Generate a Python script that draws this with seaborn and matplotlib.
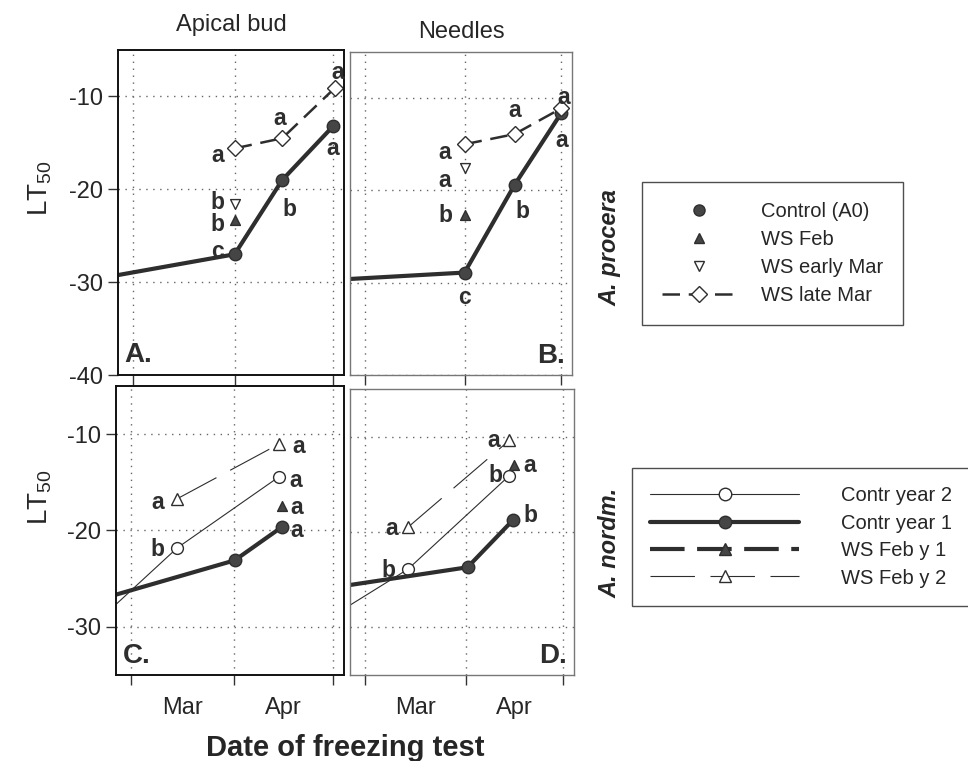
import pandas as pd
import seaborn as sns
from matplotlib import pyplot as plt
from matplotlib.lines import Line2D

# x axis = day of year (60 = 1 Mar, 91 = 1 Apr, 121 = 1 May)
month_ticks = [60, 91, 121]
month_mid = [75.5, 106]
month_names = ['Mar', 'Apr']

# A. procera - apical bud (panel A)
a_ctrl_x = [45, 91, 105.5, 121]
a_ctrl_y = [-29.9, -27.0, -19.0, -13.2]
a_ctrl_let = ['', 'c', 'b', 'a']
a_feb_x, a_feb_y, a_feb_let = [91], [-23.3], ['b']
a_emar_x, a_emar_y, a_emar_let = [91], [-21.6], ['b']
a_lmar_x = [91, 105.5, 121.5]
a_lmar_y = [-15.6, -14.5, -9.1]
a_lmar_let = ['a', 'a', 'a']

# A. procera - needles (panel B)
b_ctrl_x = [45, 91, 106.5, 121]
b_ctrl_y = [-29.8, -28.9, -19.4, -11.6]
b_ctrl_let = ['', 'c', 'b', 'a']
b_feb_x, b_feb_y, b_feb_let = [91], [-22.7], ['b']
b_emar_x, b_emar_y, b_emar_let = [91], [-17.6], ['a']
b_lmar_x = [91, 106.5, 121]
b_lmar_y = [-15.0, -13.9, -11.1]
b_lmar_let = ['a', 'a', 'a']

# A. nordmanniana - apical bud (panel C)
c_y1_x = [45, 91.3, 105.7]
c_y1_y = [-27.7, -23.1, -19.6]
c_y1_let = ['', '', 'a']
c_y2_x = [45, 74, 104.8]
c_y2_y = [-31.0, -21.8, -14.4]
c_y2_let = ['', 'b', 'a']
c_wsf1_x, c_wsf1_y, c_wsf1_let = [105.7], [-17.5], ['a']
c_wsf2_x = [74, 104.8]
c_wsf2_y = [-16.7, -11.0]
c_wsf2_let = ['a', 'a']

# A. nordmanniana - needles (panel D)
d_y1_x = [45, 91.6, 105.7]
d_y1_y = [-26.1, -23.7, -18.7]
d_y1_let = ['', '', 'b']
d_y2_x = [45, 73.3, 104.4]
d_y2_y = [-29.9, -23.9, -14.1]
d_y2_let = ['', 'b', 'b']
d_wsf1_x, d_wsf1_y, d_wsf1_let = [106], [-13.0], ['a']
d_wsf2_x = [73.3, 104.4]
d_wsf2_y = [-19.5, -10.4]
d_wsf2_let = ['a', 'a']

sns.set_theme(style='white')
plt.rcParams['font.family'] = ['Liberation Sans', 'DejaVu Sans']
plt.rcParams['mathtext.default'] = 'regular'
plt.rcParams['axes.unicode_minus'] = False

DARK = '#2e2e2e'
FILL = '#454545'

fig = plt.figure(figsize=(9.68, 7.61), dpi=100)
W, H = 968, 761


def box(x0, x1, y0, y1):
    return [x0 / W, 1 - y1 / H, (x1 - x0) / W, (y1 - y0) / H]


axA = fig.add_axes(box(118, 344, 50, 375))
axB = fig.add_axes(box(350, 572, 52, 375))
axC = fig.add_axes(box(116, 344, 386, 675))
axD = fig.add_axes(box(350, 574, 389, 675))

# line styles
THICK = dict(lw=3.0, linestyle='-')
THIN = dict(lw=0.8, linestyle='-')
LMAR = dict(lw=1.8, linestyle=(0, (7, 3.5)))
WSF2 = dict(lw=0.8, linestyle=(0, (40, 14)))


def line(ax, x, y, style, marker, ms, mfc):
    sns.lineplot(x=x, y=y, ax=ax, color=DARK, estimator=None, sort=False,
                 marker=marker, markersize=ms, markerfacecolor=mfc,
                 markeredgecolor=DARK, markeredgewidth=1.0, **style)


def points(ax, x, y, marker, size, fc):
    sns.scatterplot(x=x, y=y, ax=ax, marker=marker, s=size, color=fc,
                    edgecolor=DARK, linewidth=1.0, zorder=4)


def letters(ax, x, y, labs, offs):
    for xi, yi, t, o in zip(x, y, labs, offs):
        if t:
            ax.annotate(t, (xi, yi), xytext=o, textcoords='offset points',
                        ha='center', va='center', fontsize=16.5,
                        fontweight='bold', color=DARK)


# Panel A
line(axA, a_ctrl_x, a_ctrl_y, THICK, 'o', 9, FILL)
line(axA, a_lmar_x, a_lmar_y, LMAR, 'D', 8, 'white')
points(axA, a_feb_x, a_feb_y, '^', 50, FILL)
points(axA, a_emar_x, a_emar_y, 'v', 50, 'white')
letters(axA, a_ctrl_x, a_ctrl_y, a_ctrl_let, [None, (-12, 2), (5, -21), (0, -16)])
letters(axA, a_lmar_x, a_lmar_y, a_lmar_let, [(-12, -5), (-2, 14), (2, 11)])
letters(axA, a_feb_x, a_feb_y, a_feb_let, [(-12, -3)])
letters(axA, a_emar_x, a_emar_y, a_emar_let, [(-12, 1)])

# Panel B
line(axB, b_ctrl_x, b_ctrl_y, THICK, 'o', 9, FILL)
line(axB, b_lmar_x, b_lmar_y, LMAR, 'D', 8, 'white')
points(axB, b_feb_x, b_feb_y, '^', 50, FILL)
points(axB, b_emar_x, b_emar_y, 'v', 50, 'white')
letters(axB, b_ctrl_x, b_ctrl_y, b_ctrl_let, [None, (0, -18), (6, -19), (0, -20)])
letters(axB, b_lmar_x, b_lmar_y, b_lmar_let, [(-14, -6), (0, 17), (2, 8)])
letters(axB, b_feb_x, b_feb_y, b_feb_let, [(-14, 0)])
letters(axB, b_emar_x, b_emar_y, b_emar_let, [(-14, -9)])

# Panel C
line(axC, c_y2_x, c_y2_y, THIN, 'o', 8.5, 'white')
line(axC, c_y1_x, c_y1_y, THICK, 'o', 9, FILL)
line(axC, c_wsf2_x, c_wsf2_y, WSF2, '^', 8, 'white')
points(axC, c_wsf1_x, c_wsf1_y, '^', 50, FILL)
letters(axC, c_y1_x, c_y1_y, c_y1_let, [None, None, (10, -3)])
letters(axC, c_y2_x, c_y2_y, c_y2_let, [None, (-14, -1), (12, -3)])
letters(axC, c_wsf1_x, c_wsf1_y, c_wsf1_let, [(10, -1)])
letters(axC, c_wsf2_x, c_wsf2_y, c_wsf2_let, [(-14, -3), (14, -2)])

# Panel D
line(axD, d_y2_x, d_y2_y, THIN, 'o', 8.5, 'white')
line(axD, d_y1_x, d_y1_y, THICK, 'o', 9, FILL)
line(axD, d_wsf2_x, d_wsf2_y, WSF2, '^', 8, 'white')
points(axD, d_wsf1_x, d_wsf1_y, '^', 50, FILL)
letters(axD, d_y1_x, d_y1_y, d_y1_let, [None, None, (12, 3)])
letters(axD, d_y2_x, d_y2_y, d_y2_let, [None, (-14, -1), (-10, 0)])
letters(axD, d_wsf1_x, d_wsf1_y, d_wsf1_let, [(11, 0)])
letters(axD, d_wsf2_x, d_wsf2_y, d_wsf2_let, [(-12, -1), (-11, 0)])

# axes cosmetics
for ax, lab, left_col, top_row in [(axA, 'A.', True, True), (axB, 'B.', False, True),
                                    (axC, 'C.', True, False), (axD, 'D.', False, False)]:
    ax.set_xlim(55.5, 124.3)
    if top_row:
        ax.set_ylim(-40, -5)
        ax.set_yticks([-40, -30, -20, -10])
    else:
        ax.set_ylim(-35, -5)
        ax.set_yticks([-30, -20, -10])
    ax.set_xticks(month_ticks)
    ax.set_xticklabels([])
    ax.grid(True, which='major', linestyle=(0, (1, 4)), color='#666666', lw=1.0)
    ax.set_xlabel('')
    ax.set_ylabel('')
    for s in ax.spines.values():
        s.set_color('#111111' if left_col else '#777777')
        s.set_linewidth(1.4 if left_col else 1.0)
    ax.tick_params(axis='x', which='major', direction='out', length=7, width=1,
                   color='#333333', bottom=True)
    if left_col:
        ax.tick_params(axis='y', which='major', direction='out', length=7, width=1,
                       color='#333333', left=True, labelsize=17, pad=4)
    else:
        ax.set_yticklabels([])
        ax.tick_params(axis='y', left=False)
    if not top_row:
        ax.set_xticks(month_mid, minor=True)
        ax.set_xticklabels(month_names, minor=True)
        ax.tick_params(axis='x', which='minor', length=0, labelsize=17, pad=16)
    if left_col:
        ax.text(0.03, 0.02, lab, transform=ax.transAxes, fontsize=20,
                fontweight='bold', ha='left', va='bottom', color=DARK)
    else:
        ax.text(0.97, 0.02, lab, transform=ax.transAxes, fontsize=20,
                fontweight='bold', ha='right', va='bottom', color=DARK)

axA.set_title('Apical bud', fontsize=17, pad=14)
axB.set_title('Needles', fontsize=17, pad=10)

fig.text(40 / W, 1 - 188 / H, 'LT$_{50}$', rotation=90, fontsize=20,
         ha='center', va='center')
fig.text(40 / W, 1 - 497 / H, 'LT$_{50}$', rotation=90, fontsize=20,
         ha='center', va='center')
fig.text(345 / W, 1 - 748 / H, 'Date of freezing test', fontsize=21,
         fontweight='bold', ha='center', va='center')
fig.text(610 / W, 1 - 248 / H, 'A. procera', rotation=90, fontsize=17,
         fontweight='bold', fontstyle='italic', ha='center', va='center')
fig.text(610 / W, 1 - 543 / H, 'A. nordm.', rotation=90, fontsize=17,
         fontweight='bold', fontstyle='italic', ha='center', va='center')

# legends
h_top = [
    Line2D([], [], ls='none', marker='o', ms=8, mfc=FILL, mec=DARK),
    Line2D([], [], ls='none', marker='^', ms=7, mfc=FILL, mec=DARK),
    Line2D([], [], ls='none', marker='v', ms=7, mfc='white', mec=DARK),
    Line2D([], [], color=DARK, marker='D', ms=8, mfc='white', mec=DARK, **LMAR),
]
l_top = ['Control (A0)', 'WS Feb', 'WS early Mar', 'WS late Mar']
leg1 = fig.legend(h_top, l_top, loc='upper left', bbox_to_anchor=(642 / W, 1 - 182 / H),
                  fontsize=14.5, frameon=True, fancybox=False, edgecolor='#222222',
                  handlelength=3.7, handletextpad=1.2, borderpad=1.0, labelspacing=0.45,
                  borderaxespad=0, numpoints=1)
leg1.get_frame().set_linewidth(1.0)

h_bot = [
    Line2D([], [], color=DARK, marker='o', ms=9, mfc='white', mec=DARK, **THIN),
    Line2D([], [], color=DARK, marker='o', ms=9, mfc=FILL, mec=DARK, **THICK),
    Line2D([], [], color=DARK, marker='^', ms=8, mfc=FILL, mec=DARK,
           lw=3.0, linestyle=(0, (8.3, 3))),
    Line2D([], [], color=DARK, marker='^', ms=8, mfc='white', mec=DARK, **WSF2),
]
l_bot = ['Contr year 2', 'Contr year 1', 'WS Feb y 1', 'WS Feb y 2']
leg2 = fig.legend(h_bot, l_bot, loc='upper left', bbox_to_anchor=(632 / W, 1 - 468 / H),
                  fontsize=14.5, frameon=True, fancybox=False, edgecolor='#222222',
                  handlelength=7.4, handletextpad=2.1, borderpad=0.9, labelspacing=0.42,
                  borderaxespad=0, numpoints=1)
leg2.get_frame().set_linewidth(1.0)

plt.savefig('out.png', dpi=100)
